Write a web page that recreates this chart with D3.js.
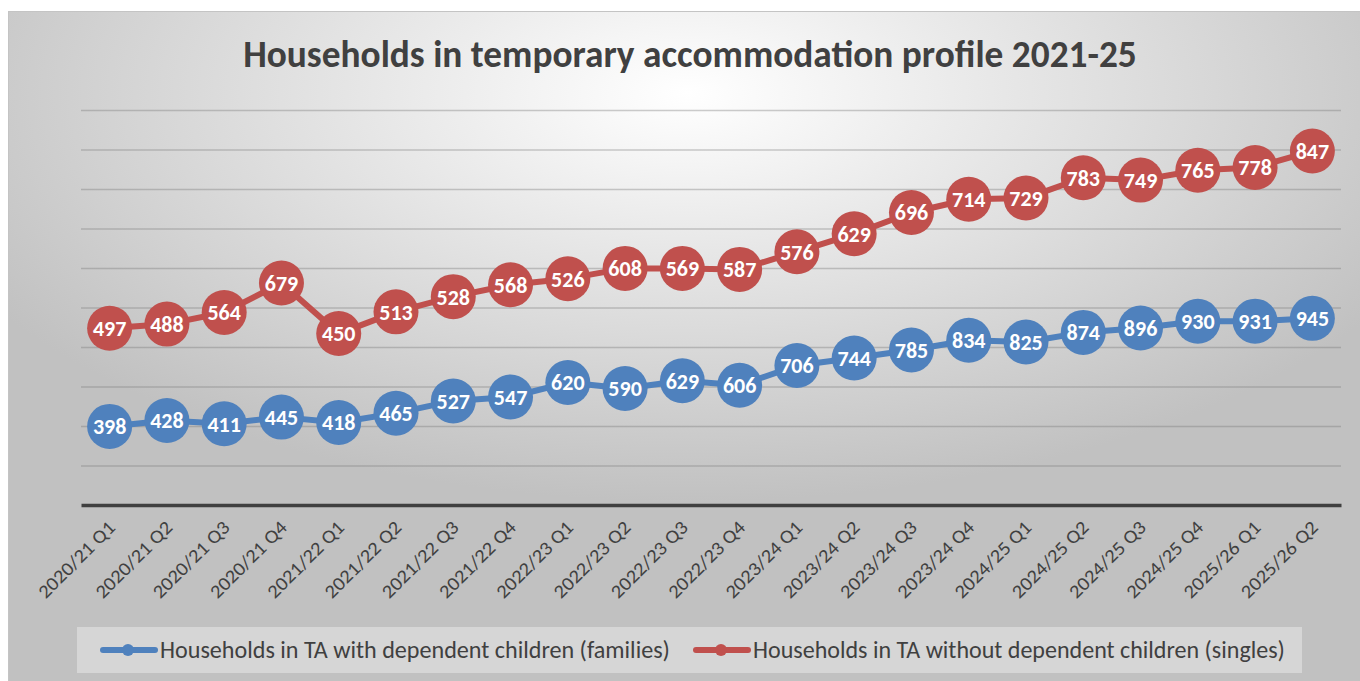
<!DOCTYPE html>
<html>
<head>
<meta charset="utf-8">
<script src="https://cdn.jsdelivr.net/npm/d3@7"></script>
<style>
  html, body { margin: 0; padding: 0; background: #fff; overflow: hidden; }
  svg { display: block; font-family: Carlito, Calibri, Lato, sans-serif; }
</style>
</head>
<body>
<div id="chart"></div>
<script>
var quarters = ["2020/21 Q1", "2020/21 Q2", "2020/21 Q3", "2020/21 Q4",
  "2021/22 Q1", "2021/22 Q2", "2021/22 Q3", "2021/22 Q4",
  "2022/23 Q1", "2022/23 Q2", "2022/23 Q3", "2022/23 Q4",
  "2023/24 Q1", "2023/24 Q2", "2023/24 Q3", "2023/24 Q4",
  "2024/25 Q1", "2024/25 Q2", "2024/25 Q3", "2024/25 Q4",
  "2025/26 Q1", "2025/26 Q2"];
var families = [398, 428, 411, 445, 418, 465, 527, 547, 620, 590, 629, 606,
  706, 744, 785, 834, 825, 874, 896, 930, 931, 945];
var singles = [497, 488, 564, 679, 450, 513, 528, 568, 526, 608, 569, 587,
  576, 629, 696, 714, 729, 783, 749, 765, 778, 847];
var seriesNames = ["Households in TA with dependent children (families)",
  "Households in TA without dependent children (singles)"];
var yTicks = [0, 200, 400, 600, 800, 1000, 1200, 1400, 1600, 1800, 2000];
var titleText = "Households in temporary accommodation profile 2021-25";

var W = 1360, H = 681;
var colors = ["#4f81bd", "#c0504d"];

var svg = d3.select("#chart").append("svg")
  .attr("width", W).attr("height", H);

var defs = svg.append("defs");
var grad = defs.append("radialGradient").attr("id", "bg")
  .attr("cx", "0.5").attr("cy", "0.12").attr("r", "0.6").attr("fx", "0.5").attr("fy", "0.12");
grad.append("stop").attr("offset", "0").attr("stop-color", "#ffffff");
grad.append("stop").attr("offset", "1").attr("stop-color", "#c1c1c1");

svg.append("rect").attr("x", 8.5).attr("y", 11.5).attr("width", W).attr("height", H)
  .attr("fill", "url(#bg)").attr("stroke", "#c4c4c4").attr("stroke-width", 1);

// fit a text element to a target width
function fit(sel, target) {
  var fs = parseFloat(sel.attr("font-size"));
  var len = sel.node().getComputedTextLength();
  sel.attr("font-size", (fs * target / len).toFixed(2));
}

var title = svg.append("text")
  .attr("x", 690).attr("y", 67).attr("text-anchor", "middle")
  .attr("font-size", 36).attr("font-weight", "bold").attr("fill", "#404040")
  .text(titleText);
fit(title, 894);

var margin = {left: 81, right: 1341, top: 110, bottom: 505};

var x = d3.scaleBand().domain(quarters).range([margin.left, margin.right]);
var y = d3.scaleLinear().domain([0, 2000]).range([margin.bottom, margin.top]);

// gridlines
svg.append("g")
  .attr("transform", "translate(" + margin.left + ",0)")
  .call(d3.axisLeft(y).tickValues(yTicks.slice(1)).tickSize(-(margin.right - margin.left)).tickFormat(""))
  .call(function(g) {
    g.select(".domain").remove();
    g.selectAll(".tick line").attr("stroke", "#7a7a7a").attr("stroke-opacity", 0.38).attr("stroke-width", 1.5);
  });

// x axis
var xAxis = svg.append("g")
  .attr("transform", "translate(0," + margin.bottom + ")")
  .call(d3.axisBottom(x).tickSize(0).tickPadding(0));
xAxis.select(".domain").attr("stroke", "#404040").attr("stroke-width", 3.5);
xAxis.selectAll(".tick text")
  .attr("font-size", 19).attr("fill", "#404040")
  .attr("font-family", "Carlito, Calibri, Lato, sans-serif")
  .attr("text-anchor", "end")
  .attr("transform", "translate(2,19) rotate(-45)")
  .attr("dy", "0.35em")
  .attr("textLength", 100).attr("lengthAdjust", "spacingAndGlyphs");

// stacked data
var rows = quarters.map(function(q, i) {
  return {q: q, families: families[i], singles: singles[i]};
});
var stack = d3.stack().keys(["families", "singles"])(rows);

var line = d3.line()
  .x(function(d) { return x(d.data.q) + x.bandwidth() / 2; })
  .y(function(d) { return y(d[1]); });

stack.forEach(function(s, k) {
  var g = svg.append("g");
  g.append("path").datum(s).attr("d", line)
    .attr("fill", "none").attr("stroke", colors[k]).attr("stroke-width", 6)
    .attr("stroke-linejoin", "round");
  var pts = g.selectAll("g.pt").data(s).enter().append("g")
    .attr("transform", function(d) {
      return "translate(" + (x(d.data.q) + x.bandwidth() / 2) + "," + y(d[1]) + ")";
    });
  pts.append("circle").attr("r", 22.5).attr("fill", colors[k]);
  pts.append("text").attr("text-anchor", "middle").attr("dy", "0.36em")
    .attr("font-size", 22).attr("font-weight", "bold").attr("fill", "#fff")
    .text(function(d) { return d[1] - d[0]; });
});

// legend
var legend = svg.append("g");
legend.append("rect").attr("x", 77).attr("y", 627).attr("width", 1225).attr("height", 46)
  .attr("fill", "#ffffff").attr("fill-opacity", 0.35);
var legItems = [{x0: 100, tx: 160, w: 510}, {x0: 693, tx: 753, w: 532}];
legItems.forEach(function(it, k) {
  legend.append("line").attr("x1", it.x0 + 3).attr("x2", it.x0 + 55).attr("y1", 650).attr("y2", 650)
    .attr("stroke", colors[k]).attr("stroke-width", 6).attr("stroke-linecap", "round");
  legend.append("circle").attr("cx", it.x0 + 28).attr("cy", 650).attr("r", 6).attr("fill", colors[k]);
  var t = legend.append("text").attr("x", it.tx).attr("y", 650).attr("dy", "0.35em")
    .attr("font-size", 21).attr("fill", "#404040").text(seriesNames[k]);
  fit(t, it.w);
});
</script>
</body>
</html>
